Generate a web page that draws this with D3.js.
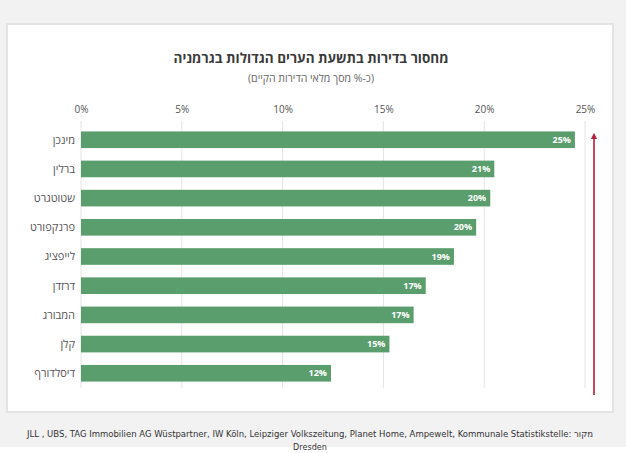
<!DOCTYPE html>
<html>
<head>
<meta charset="utf-8">
<script src="https://cdn.jsdelivr.net/npm/d3@7/dist/d3.min.js"></script>
<style>
  html, body { margin: 0; padding: 0; background: #fff; }
  svg { display: block; font-family: "Open Sans", "DejaVu Sans", sans-serif; }
</style>
</head>
<body>
<svg id="chart" width="626" height="453"></svg>
<script>
// Housing shortage, share of existing stock (%)
const cities = ["מינכן", "ברלין", "שטוטגרט", "פרנקפורט", "לייפציג", "דרזדן", "המבורג", "קלן", "דיסלדורף"];
const shortage = [24.5, 20.5, 20.3, 19.6, 18.5, 17.1, 16.5, 15.3, 12.4];
const xTicks = [0, 5, 10, 15, 20, 25];

const titleText = "מחסור בדירות בתשעת הערים הגדולות בגרמניה";
const subtitleText = "(כ-% מסך מלאי הדירות הקיים)";
const sourceLine1 = "JLL , UBS, TAG Immobilien AG Wüstpartner, IW Köln, Leipziger Volkszeitung, Planet Home, Ampewelt, Kommunale Statistikstelle: מקור";
const sourceLine2 = "Dresden";

const svg = d3.select("#chart");
const W = 626, H = 453;

// page background and panel
svg.append("rect").attr("width", W).attr("height", H).attr("fill", "#ffffff");
svg.append("rect").attr("width", W).attr("height", 447).attr("fill", "#f2f2f2");
svg.append("rect").attr("x", 6).attr("y", 23).attr("width", 608).attr("height", 390)
  .attr("fill", "#e3e3e3");
svg.append("rect").attr("x", 8).attr("y", 25).attr("width", 604).attr("height", 386)
  .attr("fill", "#ffffff");

const x = d3.scaleLinear().domain([0, 25]).range([81, 585]);
const y = d3.scaleBand().domain(cities).range([125, 388]).paddingInner(0.43).paddingOuter(0.22);

// titles
svg.append("text").attr("x", 311).attr("y", 63).attr("text-anchor", "middle")
  .attr("font-size", 13.5).attr("font-weight", "bold").attr("fill", "#3a3a3a")
  .text(titleText);
svg.append("text").attr("x", 311).attr("y", 82).attr("text-anchor", "middle")
  .attr("direction", "rtl")
  .attr("font-size", 10.5).attr("fill", "#666")
  .text(subtitleText);

// vertical gridlines
svg.append("g").selectAll("line").data(xTicks).join("line")
  .attr("x1", d => x(d)).attr("x2", d => x(d))
  .attr("y1", 121).attr("y2", 388)
  .attr("stroke", "#e4e4e4").attr("stroke-width", 1);

// top axis labels
const axis = d3.axisTop(x).tickValues(xTicks).tickFormat(d => d + "%").tickSize(0).tickPadding(0);
const gAxis = svg.append("g").attr("transform", "translate(0,113)").call(axis);
gAxis.select(".domain").remove();
gAxis.selectAll("text").attr("font-size", 10).attr("fill", "#555")
  .attr("font-family", "'Open Sans', 'DejaVu Sans', sans-serif");

// bars
svg.append("g").selectAll("rect").data(shortage).join("rect")
  .attr("x", x(0))
  .attr("y", (d, i) => y(cities[i]))
  .attr("width", d => x(d) - x(0))
  .attr("height", y.bandwidth())
  .attr("fill", "#5b9e6d");

// value labels inside bars
svg.append("g").selectAll("text").data(shortage).join("text")
  .attr("x", d => x(d) - 4)
  .attr("y", (d, i) => y(cities[i]) + y.bandwidth() / 2)
  .attr("dy", "0.35em")
  .attr("text-anchor", "end")
  .attr("font-size", 9).attr("font-weight", "bold").attr("fill", "#ffffff")
  .text(d => Math.round(d) + "%");

// category labels, right-aligned next to the bars
svg.append("g").selectAll("text").data(cities).join("text")
  .attr("x", 75)
  .attr("y", d => y(d) + y.bandwidth() / 2)
  .attr("dy", "0.35em")
  .attr("text-anchor", "end")
  .attr("font-size", 11).attr("fill", "#555")
  .text(d => d);

// ranking arrow
const defs = svg.append("defs");
defs.append("marker").attr("id", "arrowHead")
  .attr("viewBox", "0 0 10 10").attr("refX", 5).attr("refY", 5)
  .attr("markerWidth", 3.5).attr("markerHeight", 4).attr("orient", "auto")
  .append("path").attr("d", "M0,0 L10,5 L0,10 Z").attr("fill", "#b5203c");
svg.append("line")
  .attr("x1", 594).attr("x2", 594)
  .attr("y1", 395).attr("y2", 136)
  .attr("stroke", "#c0354f").attr("stroke-width", 1.8)
  .attr("marker-end", "url(#arrowHead)");

// source note
svg.append("text").attr("x", 310).attr("y", 437).attr("text-anchor", "middle")
  .attr("font-size", 9).attr("fill", "#333")
  .attr("font-family", "'Liberation Sans Narrow', 'DejaVu Sans Condensed', sans-serif")
  .attr("textLength", 566).attr("lengthAdjust", "spacingAndGlyphs")
  .text(sourceLine1);
svg.append("text").attr("x", 310).attr("y", 450).attr("text-anchor", "middle")
  .attr("font-size", 9).attr("fill", "#333")
  .attr("font-family", "'Liberation Sans Narrow', 'DejaVu Sans Condensed', sans-serif")
  .text(sourceLine2);
</script>
</body>
</html>
